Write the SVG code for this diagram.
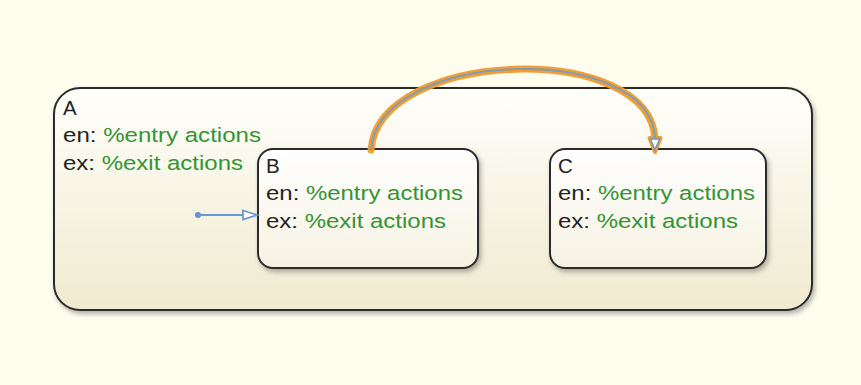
<svg xmlns="http://www.w3.org/2000/svg" width="861" height="385" viewBox="0 0 861 385">
<style>
.t{font-family:"Liberation Sans",Arial,sans-serif;font-size:20.5px;fill:#222}
.g{fill:#339433}
.st{stroke:#2b2b2b;stroke-width:2}
</style>
<defs>
<linearGradient id="ga" x1="0" y1="0" x2="0" y2="1"><stop offset="0" stop-color="#fffffb"/><stop offset="1" stop-color="#f0eacf"/></linearGradient>
<linearGradient id="gb" x1="0" y1="0" x2="0" y2="1"><stop offset="0" stop-color="#ffffff"/><stop offset="1" stop-color="#f6f2e2"/></linearGradient>
<filter id="sh" x="-5%" y="-5%" width="115%" height="120%"><feDropShadow dx="2" dy="3" stdDeviation="2.5" flood-color="#000" flood-opacity="0.3"/></filter>
</defs>
<rect width="861" height="385" fill="#fffdee"/>
<g id="A">
<rect x="54" y="88" width="758" height="222" rx="26" fill="url(#ga)" class="st" filter="url(#sh)"/>
<text class="t" x="63" y="115">A</text>
<text class="t" x="63" y="142" textLength="198" lengthAdjust="spacingAndGlyphs">en: <tspan class="g">%entry actions</tspan></text>
<text class="t" x="63" y="170" textLength="180" lengthAdjust="spacingAndGlyphs">ex: <tspan class="g">%exit actions</tspan></text>
</g>
<g id="B">
<rect x="258" y="149" width="220" height="119" rx="15" fill="url(#gb)" class="st" filter="url(#sh)"/>
<text class="t" x="266" y="173">B</text>
<text class="t" x="266" y="200" textLength="197" lengthAdjust="spacingAndGlyphs">en: <tspan class="g">%entry actions</tspan></text>
<text class="t" x="266" y="228" textLength="180" lengthAdjust="spacingAndGlyphs">ex: <tspan class="g">%exit actions</tspan></text>
</g>
<g id="C">
<rect x="550" y="149" width="216" height="119" rx="15" fill="url(#gb)" class="st" filter="url(#sh)"/>
<text class="t" x="558" y="173">C</text>
<text class="t" x="558" y="200" textLength="197" lengthAdjust="spacingAndGlyphs">en: <tspan class="g">%entry actions</tspan></text>
<text class="t" x="558" y="228" textLength="180" lengthAdjust="spacingAndGlyphs">ex: <tspan class="g">%exit actions</tspan></text>
</g>
<g id="connectors">
<g id="default-transition">
<circle cx="198" cy="215" r="3" fill="#5b8fd0"/>
<line x1="198" y1="215" x2="244" y2="215" stroke="#6a98d0" stroke-width="2"/>
<path d="M243,210.5 L257,215 L243,219.5 Z" fill="#fff" stroke="#6a98d0" stroke-width="1.8"/>
</g>
<g id="B-to-C">
<path d="M371,150 C378,48 652,40 655,140" fill="none" stroke="#f09a2a" stroke-width="7" stroke-linecap="round" opacity="0.95"/>
<path d="M649.5,138 L655,152 L660.5,138 Z" fill="#f09a2a" stroke="#f09a2a" stroke-width="4" stroke-linejoin="round"/>
<path d="M371,150 C378,48 652,40 655,139" fill="none" stroke="#7d9cbc" stroke-width="2"/>
<path d="M650.5,139 L655,150 L659.5,139 Z" fill="#fff" stroke="#6a98d0" stroke-width="1.5"/>
</g>
</g>
</svg>
